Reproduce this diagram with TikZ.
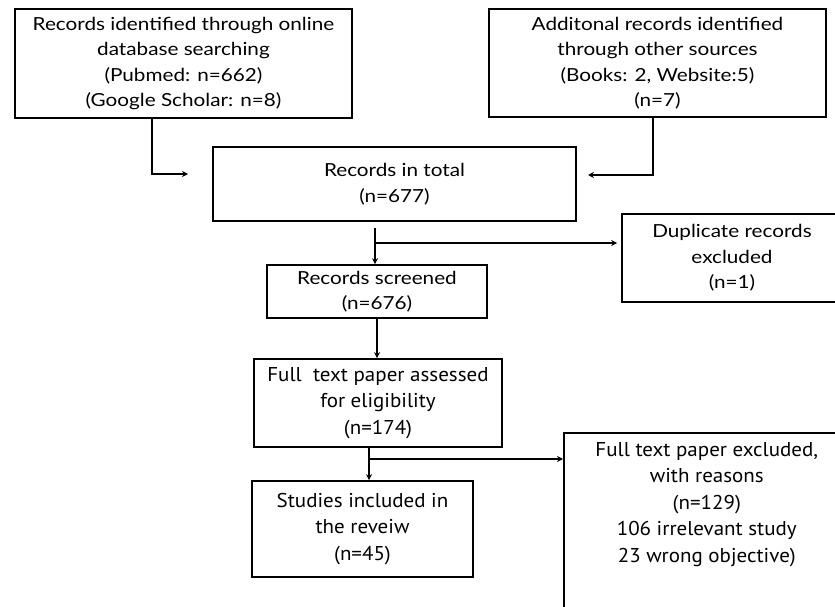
\documentclass[tikz,border=0pt]{standalone}
\usepackage{fontspec}
\newfontfamily\topfont[FakeStretch=1.15]{Lato}
\newfontfamily\lowfont[FakeStretch=1.05]{PT Sans}
\usetikzlibrary{arrows.meta}
\begin{document}
\begin{tikzpicture}[x=1pt,y=-1pt,
  box/.style={draw, line width=1.6pt, inner sep=0pt, align=center},
  tbox/.style={box, font=\topfont\fontsize{18}{25.5}\selectfont},
  lbox/.style={box, font=\lowfont\fontsize{20}{26.5}\selectfont},
  ltext/.style={inner sep=0pt, align=center, font=\lowfont\fontsize{20}{26.5}\selectfont},
  conn/.style={line width=1.5pt},
  arr/.style={conn, -{Stealth[length=6pt,width=6pt]}}]
\useasboundingbox (0,0) rectangle (835,607);
\clip (0,0) rectangle (835,607);
\node[tbox, minimum width=337pt, minimum height=109pt] (A) at (183.5,63.5)
  {Records identified through online\\database searching\\ (Pubmed: n=662)\\(Google Scholar: n=8)};
\node[tbox, minimum width=337pt, minimum height=108pt] (B) at (657.5,63)
  {Additonal records identified\\through other sources\\(Books: 2, Website:5)\\(n=7)};
\node[tbox, minimum width=363pt, minimum height=74pt] (C) at (394.5,184)
  {Records in total\\(n=677)};
\node[tbox, minimum width=220pt, minimum height=53pt] (D) at (377,291.5)
  {Records screened\\(n=676)};
\node[tbox, minimum width=220pt, minimum height=88pt] (E) at (732,258)
  {Duplicate records\\excluded\\(n=1)};
\node[lbox, minimum width=248pt, minimum height=88pt] (F) at (378,403)
  {Full\ \ text paper assessed\\for eligibility\\(n=174)};
\node[lbox, minimum width=221pt, minimum height=96pt] (G) at (362.5,529)
  {Studies included in\\the reveiw\\(n=45)};
\node[box, minimum width=290pt, minimum height=200pt, anchor=north west] (H) at (563,432) {};
\node[ltext, anchor=north] (Ht) at ([xshift=-2pt,yshift=-10pt]H.north)
  {Full text paper excluded,\\with reasons\\(n=129)\\106 irrelevant study\\23 wrong objective)};
\coordinate (a1) at (152,174);
\coordinate (a2) at (188,174);
\draw[arr] (A.south -| a1) |- (a2);
\coordinate (b1) at (653,175);
\coordinate (b2) at (588,175);
\draw[arr] (B.south -| b1) |- (b2);
\coordinate (c1) at (375,228);
\coordinate (c2) at (375,243);
\draw[arr] (c1) -- (c1 |- D.north);
\draw[arr, shorten >=4pt] (c2) -- (c2 -| E.west);
\draw[arr] (D.south) -- (D.south |- F.north);
\coordinate (f1) at (369,447);
\coordinate (f2) at (369,459);
\draw[arr] (F.south -| f1) -- (f1 |- G.north);
\draw[arr] (f2) -- (f2 -| H.west);
\end{tikzpicture}
\end{document}
